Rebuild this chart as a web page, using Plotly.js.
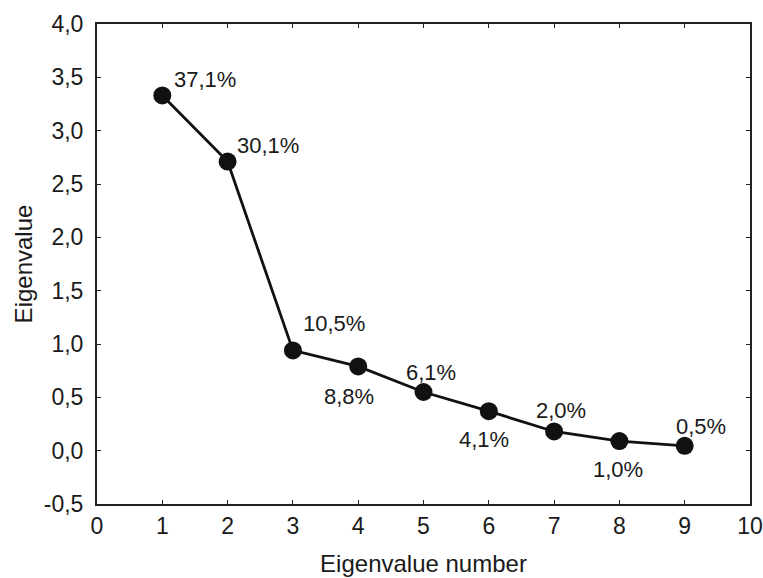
<!DOCTYPE html>
<html>
<head>
<meta charset="utf-8">
<script src="https://cdn.plot.ly/plotly-3.0.1.min.js"></script>
<style>html,body{margin:0;padding:0;background:#fff;}#chart{width:763px;height:578px;}</style>
</head>
<body>
<div id="chart"></div>
<script>
const eigenNumber = [1, 2, 3, 4, 5, 6, 7, 8, 9];
const eigenValue = [3.33, 2.71, 0.94, 0.79, 0.55, 0.37, 0.18, 0.09, 0.045];
const percentLabels = ["37,1%", "30,1%", "10,5%", "8,8%", "6,1%", "4,1%", "2,0%", "1,0%", "0,5%"];
const yTickVals = [-0.5, 0, 0.5, 1.0, 1.5, 2.0, 2.5, 3.0, 3.5, 4.0];
const yTickText = ["-0,5", "0,0", "0,5", "1,0", "1,5", "2,0", "2,5", "3,0", "3,5", "4,0"];
const xTickVals = [0, 1, 2, 3, 4, 5, 6, 7, 8, 9, 10];
const xTickText = ["0", "1", "2", "3", "4", "5", "6", "7", "8", "9", "10"];

// label offsets (pixels) for placement
const labelShift = [[43,16],[40,16],[41,27],[-9,-30],[7,20],[-5,-28],[7,21],[-1,-28],[16,19]];

const font = "Liberation Sans, Arial, sans-serif";

const trace = {
  x: eigenNumber, y: eigenValue, type: 'scatter', mode: 'lines+markers',
  line: {color: '#111', width: 2.8},
  marker: {color: '#111', size: 18},
  hoverinfo: 'skip'
};

const annotations = eigenNumber.map((xv, i) => ({
  x: xv, y: eigenValue[i], xref: 'x', yref: 'y', text: percentLabels[i],
  showarrow: false, xshift: labelShift[i][0], yshift: labelShift[i][1],
  font: {family: font, size: 22, color: '#1a1a1a'}
}));

const layout = {
  width: 763, height: 578,
  margin: {l: 97, r: 13, t: 24, b: 74},
  paper_bgcolor: '#fff', plot_bgcolor: '#fff',
  showlegend: false,
  font: {family: font, size: 22, color: '#1a1a1a'},
  xaxis: {
    range: [0, 10], tickmode: 'array', tickvals: xTickVals, ticktext: xTickText,
    showgrid: false, zeroline: false,
    showline: true, linecolor: '#222', linewidth: 2, mirror: 'ticks',
    ticks: 'inside', ticklen: 4, tickcolor: '#222',
    tickfont: {family: font, size: 23, color: '#1a1a1a'},
    title: {text: 'Eigenvalue number', font: {family: font, size: 24, color: '#1a1a1a'}, standoff: 18}
  },
  yaxis: {
    range: [-0.5, 4.0], tickmode: 'array', tickvals: yTickVals, ticktext: yTickText,
    showgrid: false, zeroline: false,
    showline: true, linecolor: '#222', linewidth: 2, mirror: 'ticks',
    ticks: 'inside', ticklen: 4, tickcolor: '#222', ticklabelstandoff: 7,
    tickfont: {family: font, size: 23, color: '#1a1a1a'},
    title: {text: 'Eigenvalue', font: {family: font, size: 24, color: '#1a1a1a'}, standoff: 4}
  },
  annotations: annotations
};

Plotly.newPlot('chart', [trace], layout, {displayModeBar: false, staticPlot: true});
</script>
</body>
</html>
